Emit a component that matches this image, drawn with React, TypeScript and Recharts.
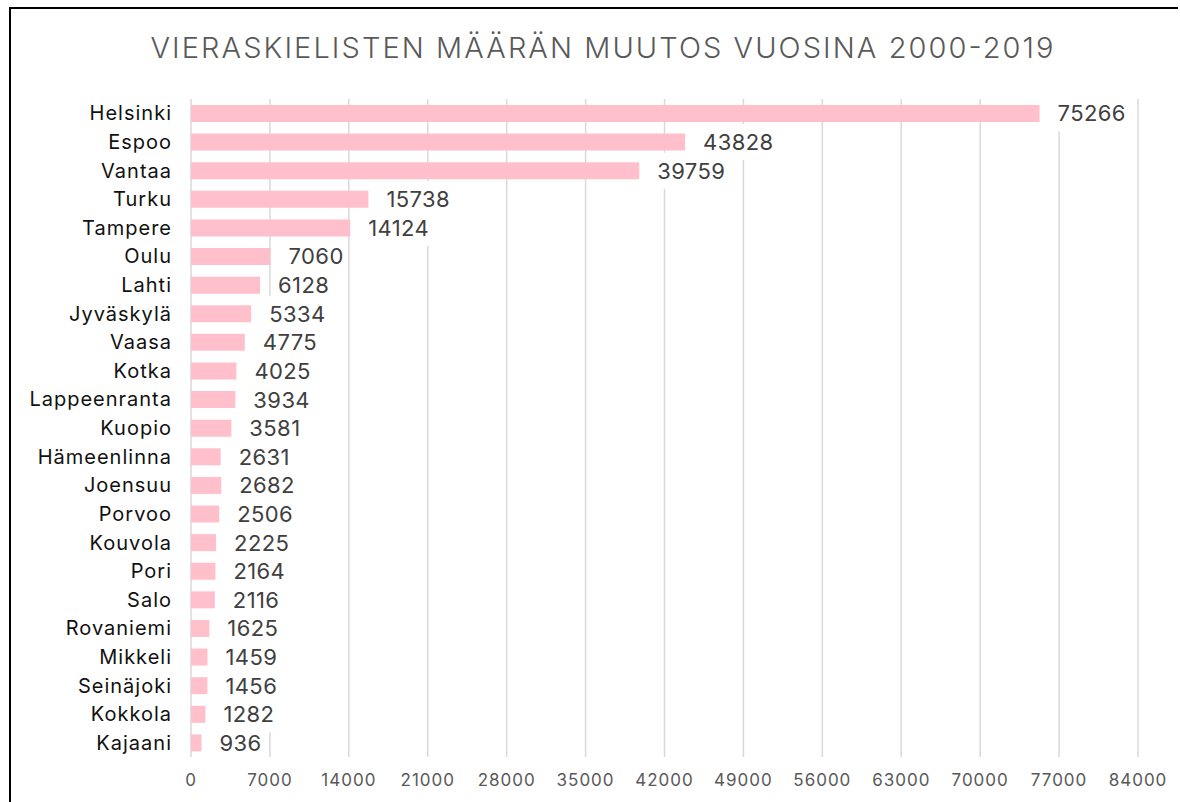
import React from 'react';
import { BarChart, Bar, XAxis, YAxis, CartesianGrid, LabelList } from 'recharts';

const cities = [
  'Helsinki', 'Espoo', 'Vantaa', 'Turku', 'Tampere', 'Oulu', 'Lahti', 'Jyväskylä',
  'Vaasa', 'Kotka', 'Lappeenranta', 'Kuopio', 'Hämeenlinna', 'Joensuu', 'Porvoo',
  'Kouvola', 'Pori', 'Salo', 'Rovaniemi', 'Mikkeli', 'Seinäjoki', 'Kokkola', 'Kajaani',
];
const counts = [
  75266, 43828, 39759, 15738, 14124, 7060, 6128, 5334, 4775, 4025, 3934, 3581,
  2631, 2682, 2506, 2225, 2164, 2116, 1625, 1459, 1456, 1282, 936,
];
const xTicks = [0, 7000, 14000, 21000, 28000, 35000, 42000, 49000, 56000, 63000, 70000, 77000, 84000];
const title = 'VIERASKIELISTEN MÄÄRÄN MUUTOS VUOSINA 2000-2019';

const data = cities.map((name, i) => ({ name, value: counts[i] }));

const FONT = 'Inter, "Open Sans", sans-serif';

// white box behind each value label, so gridlines stop at the label
const LabelBox = (props: any) => {
  const { x, y, width, height, value } = props;
  const len = String(value).length;
  const tx = x + width + 18;
  const w = len * 13.6;
  return <rect x={tx - 4} y={y + height / 2 - 18} width={w + 8} height={36} fill="#ffffff" />;
};

const LabelText = (props: any) => {
  const { x, y, width, height, value } = props;
  return (
    <text
      x={x + width + 18}
      y={y + height / 2}
      dy="0.36em"
      fill="#404040"
      fontSize={22}
      fontFamily={FONT}
      letterSpacing={0.4}
    >
      {value}
    </text>
  );
};

const App: React.FC = () => {
  return (
    <div style={{ position: 'absolute', left: 0, top: 0, width: 1180, height: 802, background: '#fff', overflow: 'hidden' }}>
      <div
        style={{
          position: 'absolute',
          left: 9,
          top: 7,
          width: 1167,
          height: 800,
          borderTop: '2px solid #000',
          borderLeft: '2px solid #000',
        }}
      />
      <svg width={1180} height={90} style={{ position: 'absolute', left: 0, top: 0 }}>
        <text
          x={602}
          y={58}
          textAnchor="middle"
          fill="#595959"
          fontSize={29}
          fontFamily={FONT}
          fontWeight={300}
          textLength={903}
          lengthAdjust="spacing"
        >
          {title}
        </text>
      </svg>
      <div style={{ position: 'absolute', left: 0, top: 0 }}>
        <BarChart
          width={1180}
          height={802}
          data={data}
          layout="vertical"
          margin={{ top: 99, right: 42, bottom: 5, left: 0 }}
        >
          <CartesianGrid horizontal={false} vertical={true} stroke="#d9d9d9" strokeWidth={1.5} />
          <XAxis
            type="number"
            domain={[0, 84000]}
            ticks={xTicks}
            interval={0}
            axisLine={false}
            tickLine={false}
            tickSize={0}
            tickMargin={17}
            height={40}
            tick={{ fill: '#595959', fontSize: 17, fontFamily: FONT, letterSpacing: 1 }}
          />
          <YAxis
            type="category"
            dataKey="name"
            width={191}
            interval={0}
            axisLine={false}
            tickLine={false}
            tickSize={0}
            tickMargin={19}
            tick={{ fill: '#111111', fontSize: 20, fontFamily: FONT, letterSpacing: 1 }}
          />
          <Bar dataKey="value" fill="#FFC0CC" barSize={17} isAnimationActive={false}>
            <LabelList dataKey="value" content={LabelBox} />
            <LabelList dataKey="value" content={LabelText} />
          </Bar>
        </BarChart>
      </div>
    </div>
  );
};

export default App;
